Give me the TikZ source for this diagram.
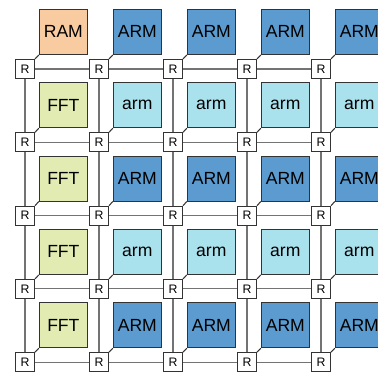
\documentclass[tikz,border=0pt]{standalone}
\usepackage{fontspec}
\setmainfont{Liberation Sans}
\usetikzlibrary{positioning}

\definecolor{ramfill}{HTML}{F8CBA0}
\definecolor{bigarm}{HTML}{5B9BD0}
\definecolor{smallarm}{HTML}{A9E1EC}
\definecolor{fftfill}{HTML}{E2EBB1}

\begin{document}
\begin{tikzpicture}[every node/.style={font=\normalsize}]
  \tikzstyle{router}=[draw=black!80,fill=white,line width=0.6pt,minimum size=0.38cm,inner sep=0pt,font=\scriptsize]
  \tikzstyle{tile}=[draw=black!80,line width=0.6pt,minimum width=0.96cm,minimum height=0.9cm,inner sep=0pt]
  \tikzstyle{link}=[black!55,line width=0.6pt]
  \useasboundingbox (0,0) rectangle (7.56,-7.48);
  % routers of the mesh
  \foreach \i in {0,...,4}
    \foreach \j in {0,...,4}
      \node[router] (r\i\j) at ({0.5+1.48*\i},{-1.38-1.466*\j}) {R};
  % links between neighbours
  \foreach \i/\k in {0/1,1/2,2/3,3/4}
    \foreach \j in {0,...,4} {
      \draw[link] (r\i\j) -- (r\k\j);
      \draw[link] (r\j\i) -- (r\j\k);
    }
  % tiles, one above right of each router
  \foreach \i in {0,...,4}
    \foreach \j in {0,...,4} {
      \ifnum\j=0
        \ifnum\i=0 \def\lbl{RAM}\def\col{ramfill}\else \def\lbl{ARM}\def\col{bigarm}\fi
      \else
        \ifnum\i=0 \def\lbl{FFT}\def\col{fftfill}
        \else
          \ifodd\j \def\lbl{arm}\def\col{smallarm}\else \def\lbl{ARM}\def\col{bigarm}\fi
        \fi
      \fi
      \node[tile,fill=\col,above right=0.08cm and 0.076cm of r\i\j] (t\i\j) {\lbl};
      \draw[black!80,line width=0.6pt] (r\i\j.north east) -- (t\i\j.south west);
    }
\end{tikzpicture}
\end{document}
